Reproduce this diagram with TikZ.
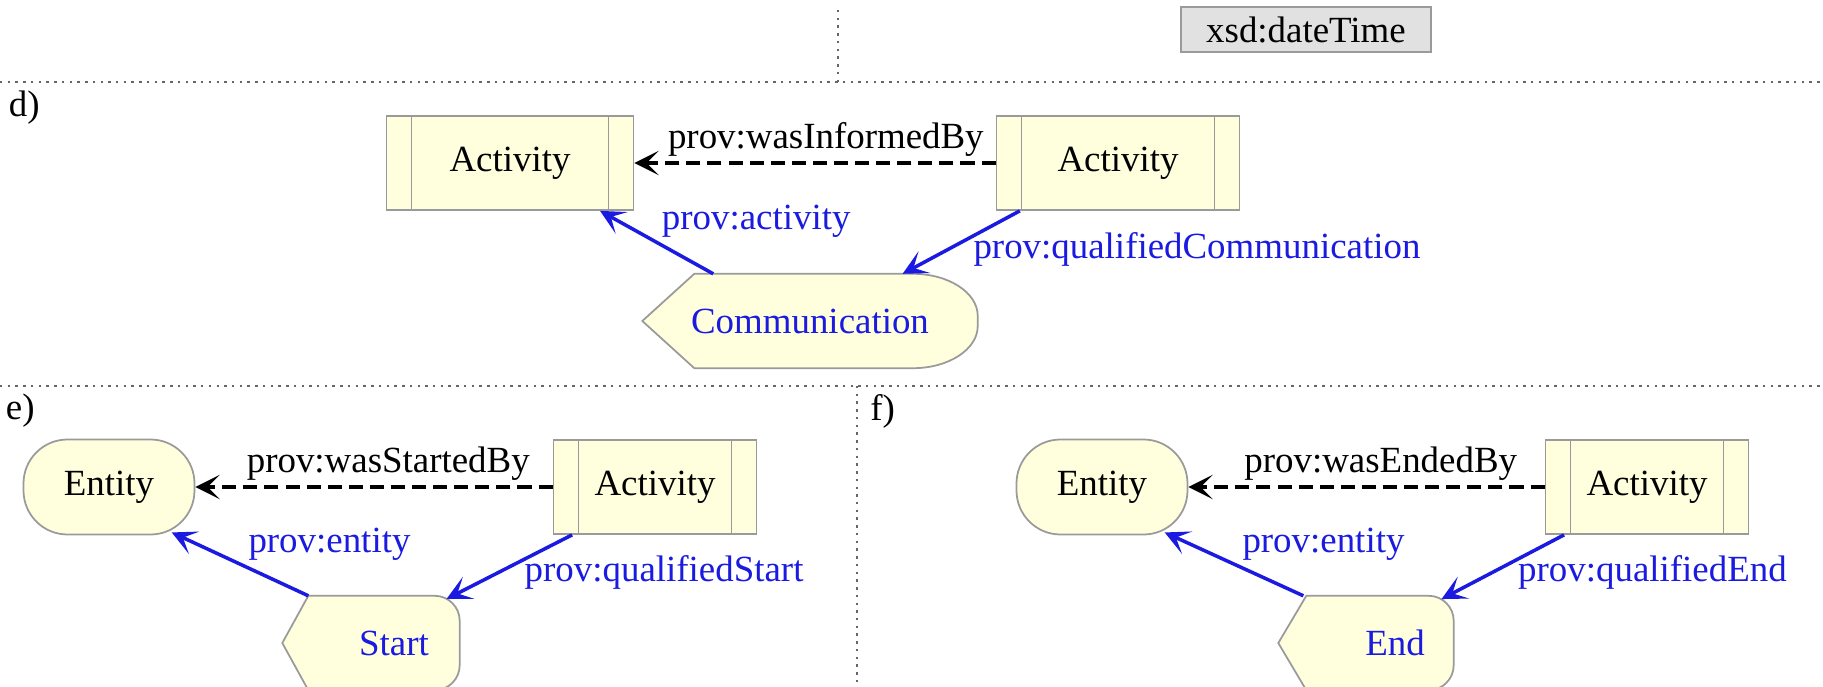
\documentclass[tikz,border=0pt]{standalone}
\usepackage{fontspec}
\setmainfont{Liberation Serif}
\usetikzlibrary{arrows.meta,calc,backgrounds}
\definecolor{provyellow}{HTML}{FFFFDE}
\definecolor{provgray}{HTML}{9A9A9A}
\definecolor{provblue}{HTML}{1A1AE0}
\definecolor{typegray}{HTML}{E1E1E1}
\tikzstyle{box}=[draw=provgray, fill=provyellow, line width=0.5pt, minimum height=0.94cm, inner sep=0pt]
\tikzstyle{activity}=[box, rectangle, path picture={
    \draw[provgray, line width=0.5pt]
      ([xshift=0.25cm]path picture bounding box.north west) -- ([xshift=0.25cm]path picture bounding box.south west)
      ([xshift=-0.25cm]path picture bounding box.north east) -- ([xshift=-0.25cm]path picture bounding box.south east);}]
\tikzstyle{entity}=[box, rounded corners=0.44cm, minimum width=1.71cm, minimum height=0.95cm]
\tikzstyle{qual}=[inner sep=0pt, minimum height=0.93cm, text=provblue]
\tikzstyle{qualfill}=[draw=provgray, fill=provyellow, line width=0.5pt]
\tikzstyle{l1}=[line width=1pt]
\tikzstyle{was}=[l1, dash pattern=on 4pt off 2pt, -{Stealth[length=7pt,width=7pt,inset=3.5pt]}]
\tikzstyle{rel}=[l1, provblue, -{Stealth[length=7pt,width=7pt,inset=3.5pt]}]
\tikzstyle{lbl}=[text=provblue, inner sep=1pt]
\tikzstyle{sep}=[line width=0.7pt, gray!80!black, dash pattern=on 0.7pt off 1.5pt]
% pointed on the left, rounded on the right
\newcommand{\qualshape}[4]{%
  \path[qualfill] (#1.west) -- ([xshift=#2]#1.north west) -- ([xshift=-#3]#1.north east)
    arc[start angle=90, end angle=0, x radius=#3, y radius=#4]
    -- ([yshift=#4]#1.south east)
    arc[start angle=0, end angle=-90, x radius=#3, y radius=#4]
    -- ([xshift=#2]#1.south west) -- cycle;}

\begin{document}
\begin{tikzpicture}[x=1cm,y=1cm,font=\fontsize{10.5}{12.6}\selectfont]
    \useasboundingbox (0,0) rectangle (18.23,6.86);

    % panel borders
    \draw[sep] (8.38,6.76) -- (8.38,6.04);
    \draw[sep] (0,6.04) -- (18.23,6.04);
    \draw[sep] (0,3.00) -- (18.23,3.00);
    \draw[sep] (8.57,3.00) -- (8.57,0);
    \node[draw=provgray, fill=typegray, line width=0.5pt, minimum width=2.5cm, minimum height=0.45cm, inner sep=0pt] (dt) at (13.06,6.565) {xsd:dateTime};

    % d)
    \node[anchor=east] (ld) at (0.52,5.78) {d)};
    \node[activity, minimum width=2.47cm] (a1) at (5.10,5.23) {Activity};
    \node[activity, minimum width=2.43cm] (a2) at (11.18,5.23) {Activity};
    \node[qual, minimum width=3.34cm] (c) at (8.10,3.65) {Communication};
    \draw[was] (a2) -- node[pos=0.47, above, yshift=-2pt] {prov:wasInformedBy} (a1);
    \draw[rel] (c.154) -- node[lbl, midway, anchor=south west] {prov:activity} (a1.-28);
    \draw[rel] (a2.206) -- node[lbl, midway, anchor=west, xshift=2pt, yshift=-2pt] {prov:qualifiedCommunication} (c.27);

    % e)
    \node[anchor=east] (le) at (0.47,2.75) {e)};
    \node[entity] (e1) at (1.09,1.99) {Entity};
    \node[activity, minimum width=2.03cm] (a3) at (6.55,1.99) {Activity};
    \node[qual, minimum width=1.76cm] (s) at (3.71,0.43) {\kern0.46cm Start};
    \draw[was] (a3) -- node[pos=0.46, above, yshift=-2pt] {prov:wasStartedBy} (e1);
    \draw[rel, shorten >=-2pt] (s.143) -- node[lbl, midway, anchor=south west] {prov:entity} (e1.-35);
    \draw[rel, shorten >=-2pt] (a3.210) -- node[lbl, midway, anchor=west, xshift=2pt, yshift=-2pt] {prov:qualifiedStart} (s.30);

    % f)
    \node[anchor=west] (lf) at (8.58,2.75) {f)};
    \node[entity] (e2) at (11.02,1.99) {Entity};
    \node[activity, minimum width=2.03cm] (a4) at (16.47,1.99) {Activity};
    \node[qual, minimum width=1.74cm] (n) at (13.66,0.43) {\kern0.58cm End};
    \draw[was] (a4) -- node[pos=0.46, above, yshift=-2pt] {prov:wasEndedBy} (e2);
    \draw[rel, shorten >=-2pt] (n.143) -- node[lbl, midway, anchor=south west] {prov:entity} (e2.-35);
    \draw[rel, shorten >=-2pt] (a4.210) -- node[lbl, midway, anchor=west, xshift=2pt, yshift=-2pt] {prov:qualifiedEnd} (n.30);

    \begin{scope}[on background layer]
      \qualshape{c}{0.52cm}{0.65cm}{0.42cm}
      \qualshape{s}{0.26cm}{0.25cm}{0.25cm}
      \qualshape{n}{0.28cm}{0.25cm}{0.25cm}
    \end{scope}
\end{tikzpicture}
\end{document}
